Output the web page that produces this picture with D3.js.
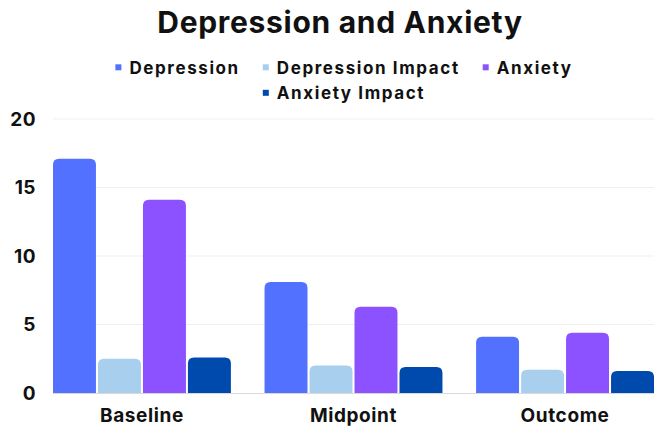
<!DOCTYPE html>
<html>
<head>
<meta charset="utf-8">
<script src="https://cdn.jsdelivr.net/npm/d3@7"></script>
<style>
  html, body { margin: 0; padding: 0; background: #fff; }
  svg { display: block; font-family: Inter, "Open Sans", sans-serif; }
</style>
</head>
<body>
<svg id="chart" width="654" height="431"></svg>
<script>
// Survey phases and the four measured series
const categories = ["Baseline", "Midpoint", "Outcome"];
const seriesNames = ["Depression", "Depression Impact", "Anxiety", "Anxiety Impact"];
const depression = [17.1, 8.1, 4.1];
const depressionImpact = [2.5, 2.0, 1.7];
const anxiety = [14.1, 6.3, 4.4];
const anxietyImpact = [2.6, 1.9, 1.6];
const yTicks = [0, 5, 10, 15, 20];
const colors = ["#5271ff", "#a8cfee", "#8c52ff", "#004aad"];

const seriesValues = [depression, depressionImpact, anxiety, anxietyImpact];

const svg = d3.select("#chart");
const W = 654, H = 431;
const margin = { top: 119, right: 0, bottom: 38, left: 53 };

const x0 = d3.scaleBand()
  .domain(categories)
  .range([margin.left, W - margin.right])
  .paddingInner(0.159)
  .paddingOuter(0);

const x1 = d3.scaleBand()
  .domain(seriesNames)
  .range([0, x0.bandwidth()])
  .paddingInner(0.045);

const y = d3.scaleLinear()
  .domain([0, 20])
  .range([H - margin.bottom, margin.top]);

// Title
svg.append("text")
  .attr("x", 340)
  .attr("y", 33)
  .attr("text-anchor", "middle")
  .attr("font-size", 30)
  .attr("font-weight", 700)
  .attr("letter-spacing", 0.7)
  .attr("fill", "#111")
  .text("Depression and Anxiety");

// Legend, wrapped on two centred rows
const legendRows = [seriesNames.slice(0, 3), seriesNames.slice(3)];
const legendY = [73.5, 99];
const itemGap = 23;
legendRows.forEach((row, ri) => {
  const g = svg.append("g");
  let cx = 0;
  row.forEach(name => {
    const i = seriesNames.indexOf(name);
    const item = g.append("g").attr("transform", `translate(${cx},0)`);
    item.append("rect")
      .attr("x", 0).attr("y", -9.2)
      .attr("width", 6).attr("height", 6)
      .attr("fill", colors[i]);
    const t = item.append("text")
      .attr("x", 14).attr("y", 0)
      .attr("font-size", 17)
      .attr("font-weight", 700)
      .attr("letter-spacing", 1.6)
      .attr("fill", "#111")
      .text(name);
    cx += 14 + t.node().getComputedTextLength() + itemGap;
  });
  const rowW = cx - itemGap;
  g.attr("transform", `translate(${344 - rowW / 2},${legendY[ri]})`);
});

// Horizontal gridlines
svg.append("g")
  .selectAll("line")
  .data(yTicks.filter(d => d > 0))
  .join("line")
  .attr("x1", margin.left).attr("x2", W)
  .attr("y1", d => y(d)).attr("y2", d => y(d))
  .attr("stroke", "#efefef")
  .attr("stroke-width", 1);

// Y axis labels
const yAxis = svg.append("g")
  .attr("transform", `translate(${margin.left},0)`)
  .call(d3.axisLeft(y).tickValues(yTicks).tickSize(0).tickPadding(17));
yAxis.select(".domain").remove();
yAxis.selectAll("text")
  .attr("font-size", 19)
  .attr("font-weight", 700)
  .attr("letter-spacing", 0.5)
  .attr("font-family", "Inter, sans-serif")
  .attr("fill", "#111");

// Rounded-top bar path
function barPath(x, yTop, w, yBase, r) {
  const rr = Math.min(r, w / 2, (yBase - yTop));
  return `M${x},${yBase}V${yTop + rr}Q${x},${yTop} ${x + rr},${yTop}` +
         `H${x + w - rr}Q${x + w},${yTop} ${x + w},${yTop + rr}V${yBase}Z`;
}

const groups = svg.append("g")
  .selectAll("g")
  .data(categories)
  .join("g")
  .attr("transform", d => `translate(${x0(d)},0)`);

groups.selectAll("path")
  .data((c, ci) => seriesNames.map((s, si) => ({ s, si, v: seriesValues[si][ci] })))
  .join("path")
  .attr("d", d => barPath(x1(d.s), y(d.v), x1.bandwidth(), y(0), 6))
  .attr("fill", d => colors[d.si]);

// Baseline axis
svg.append("line")
  .attr("x1", margin.left).attr("x2", W)
  .attr("y1", y(0) + 0.5).attr("y2", y(0) + 0.5)
  .attr("stroke", "#d9d9d9")
  .attr("stroke-width", 1);

// X axis labels
const xAxis = svg.append("g")
  .attr("transform", `translate(0,${y(0)})`)
  .call(d3.axisBottom(x0).tickSize(0).tickPadding(16));
xAxis.select(".domain").remove();
xAxis.selectAll("text")
  .attr("font-size", 19)
  .attr("font-weight", 700)
  .attr("letter-spacing", 0.6)
  .attr("font-family", "Inter, sans-serif")
  .attr("fill", "#111");
</script>
</body>
</html>
